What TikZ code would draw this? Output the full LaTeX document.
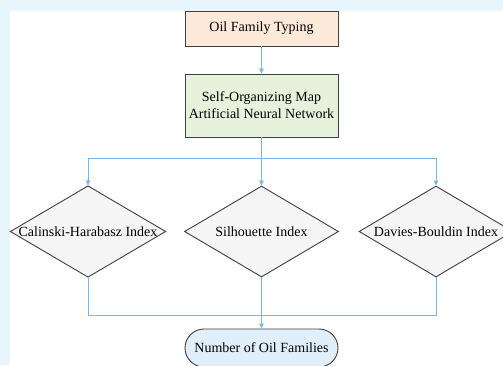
\documentclass[tikz,border=0pt]{standalone}
\usepackage{fontspec}
\setmainfont{Liberation Serif}
\usetikzlibrary{shapes.geometric,arrows.meta,calc}
\definecolor{bgblue}{HTML}{E9F5FC}
\definecolor{peach}{HTML}{FDE9D9}
\definecolor{lgreen}{HTML}{E6F2DC}
\definecolor{lgray}{HTML}{F5F5F5}
\definecolor{lblue}{HTML}{E1EFFA}
\definecolor{edge}{HTML}{404040}
\definecolor{conn}{HTML}{7DB4E6}
\tikzset{
  box/.style={draw=edge, line width=0.9pt, minimum width=153pt, inner sep=0pt, align=center, font=\fontsize{14}{17}\selectfont},
  dia/.style={draw=edge, line width=0.9pt, fill=lgray, diamond, minimum width=154pt, minimum height=91pt, inner sep=0pt, aspect=1.7, font=\fontsize{14}{17}\selectfont},
  conline/.style={draw=conn, line width=1pt},
  arr/.style={conline, -{Triangle[length=5pt,width=4.5pt]}}
}
\begin{document}
\begin{tikzpicture}[x=1pt,y=1pt]
\useasboundingbox (0,0) rectangle (503,-365);
\fill[bgblue] (0,0) rectangle (503,-365);
\fill[white] (10,-11) rectangle (503,-365);
\node[box, fill=peach, minimum height=35pt] (top) at (261.5,-28.5) {Oil Family Typing};
\node[box, fill=lgreen, minimum height=63pt] (som) at (261.5,-105.5) {Self-Organizing Map\\Artificial Neural Network};
\node[dia] (d1) at (88,-231.5) {Calinski-Harabasz Index};
\node[dia] (d2) at (261.5,-231.5) {Silhouette Index};
\node[dia] (d3) at (436,-231.5) {Davies-Bouldin Index};
\node[box, fill=lblue, minimum height=38pt, rounded corners=19pt] (res) at (261.5,-348) {Number of Oil Families};
\coordinate (split) at (261.5,-158);
\coordinate (join) at (261.5,-315);
\draw[arr] (top) -- (som);
\draw[conline] (som.south) -- (split);
\draw[arr] (split) -| (d1.north);
\draw[arr] (split) -- (d2.north);
\draw[arr] (split) -| (d3.north);
\draw[conline] (d1.south) |- (join);
\draw[conline] (d3.south) |- (join);
\draw[conline] (d2.south) -- (join);
\draw[arr] (join) -- (res.north);
\end{tikzpicture}
\end{document}
